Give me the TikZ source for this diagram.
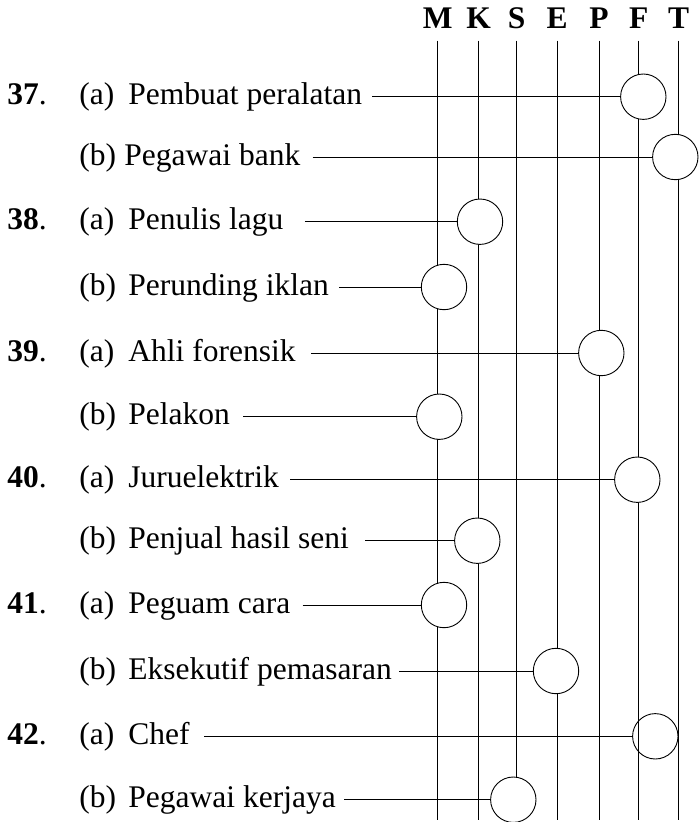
\documentclass[tikz,border=0pt]{standalone}
\usepackage{fontspec}
\setmainfont{Liberation Serif}
\usepackage{tikz}

\tikzset{
  lbl/.style={anchor=base west, inner sep=0pt, font=\fontsize{31.5}{36}\selectfont},
  hd/.style={anchor=base, inner sep=0pt, font=\fontsize{31.5}{36}\selectfont\bfseries},
  pick/.style={circle, draw, fill=white, inner sep=0pt, minimum size=45.4pt},
}

\begin{document}
\begin{tikzpicture}[x=1pt,y=-1pt,line width=0.9pt]
\useasboundingbox (0,0) rectangle (700,822);

% column heads
\node[hd] (hM) at (437.7,28.3) {M};
\node[hd] (hK) at (478.7,28.3) {K};
\node[hd] (hS) at (516.7,28.3) {S};
\node[hd] (hE) at (557,28.3) {E};
\node[hd] (hP) at (599,28.3) {P};
\node[hd] (hF) at (638.7,28.3) {F};
\node[hd] (hT) at (678.7,28.3) {T};

% vertical lines
\draw (437.7,40.7) -- (437.7,820);
\draw (478.7,40.7) -- (478.7,820);
\draw (516.7,40.7) -- (516.7,820);
\draw (557,40.7) -- (557,820);
\draw (599,40.7) -- (599,820);
\draw (638.7,40.7) -- (638.7,820);
\draw (678.7,40.7) -- (678.7,820);

% question numbers
\node[lbl] (q37) at (7,104.7) {\textbf{37}.};
\node[lbl] (q38) at (7,229.7) {\textbf{38}.};
\node[lbl] (q39) at (7,361) {\textbf{39}.};
\node[lbl] (q40) at (7,487.7) {\textbf{40}.};
\node[lbl] (q41) at (7,613) {\textbf{41}.};
\node[lbl] (q42) at (7,744.3) {\textbf{42}.};

% options
\node[lbl] (o37a) at (79,104.7) {(a)};
\node[lbl] (o37b) at (79,165) {(b)};
\node[lbl] (o38a) at (79,229.7) {(a)};
\node[lbl] (o38b) at (79,295) {(b)};
\node[lbl] (o39a) at (79,361) {(a)};
\node[lbl] (o39b) at (79,424.7) {(b)};
\node[lbl] (o40a) at (79,487.7) {(a)};
\node[lbl] (o40b) at (79,548.7) {(b)};
\node[lbl] (o41a) at (79,613) {(a)};
\node[lbl] (o41b) at (79,679) {(b)};
\node[lbl] (o42a) at (79,744.3) {(a)};
\node[lbl] (o42b) at (79,807.7) {(b)};

% jobs
\node[lbl] (n37a) at (128,104.7) {Pembuat peralatan};
\node[lbl] (n37b) at (124,165) {Pegawai bank};
\node[lbl] (n38a) at (128,229.7) {Penulis lagu};
\node[lbl] (n38b) at (128,295) {Perunding iklan};
\node[lbl] (n39a) at (128,361) {Ahli forensik};
\node[lbl] (n39b) at (128,424.7) {Pelakon};
\node[lbl] (n40a) at (128,487.7) {Juruelektrik};
\node[lbl] (n40b) at (128,548.7) {Penjual hasil seni};
\node[lbl] (n41a) at (128,613) {Peguam cara};
\node[lbl] (n41b) at (128,679) {Eksekutif pemasaran};
\node[lbl] (n42a) at (128,744.3) {Chef};
\node[lbl] (n42b) at (128,807.7) {Pegawai kerjaya};

% answer circles
\node[pick] (c37a) at (643.3,96.7) {};
\node[pick] (c37b) at (675.3,157) {};
\node[pick] (c38a) at (480,221.7) {};
\node[pick] (c38b) at (444,287) {};
\node[pick] (c39a) at (601.3,353) {};
\node[pick] (c39b) at (439.3,416.7) {};
\node[pick] (c40a) at (637.3,479.7) {};
\node[pick] (c40b) at (477.3,540.7) {};
\node[pick] (c41a) at (444,605) {};
\node[pick] (c41b) at (556,671) {};
\node[pick,fill=none] (c42a) at (655.3,736.3) {};
\node[pick] (c42b) at (513.3,799.7) {};

% leaders
\draw ([xshift=10pt]n37a.east |- c37a.west) -- (c37a.west);
\draw ([xshift=12pt]n37b.east |- c37b.west) -- (c37b.west);
\draw ([xshift=21pt]n38a.east |- c38a.west) -- (c38a.west);
\draw ([xshift=10pt]n38b.east |- c38b.west) -- (c38b.west);
\draw ([xshift=15pt]n39a.east |- c39a.west) -- (c39a.west);
\draw ([xshift=13pt]n39b.east |- c39b.west) -- (c39b.west);
\draw ([xshift=11pt]n40a.east |- c40a.west) -- (c40a.west);
\draw ([xshift=16pt]n40b.east |- c40b.west) -- (c40b.west);
\draw ([xshift=12pt]n41a.east |- c41a.west) -- (c41a.west);
\draw ([xshift=7pt]n41b.east |- c41b.west) -- (c41b.west);
\draw ([xshift=14pt]n42a.east |- c42a.west) -- (c42a.west);
\draw ([xshift=8pt]n42b.east |- c42b.west) -- (c42b.west);

\end{tikzpicture}
\end{document}
